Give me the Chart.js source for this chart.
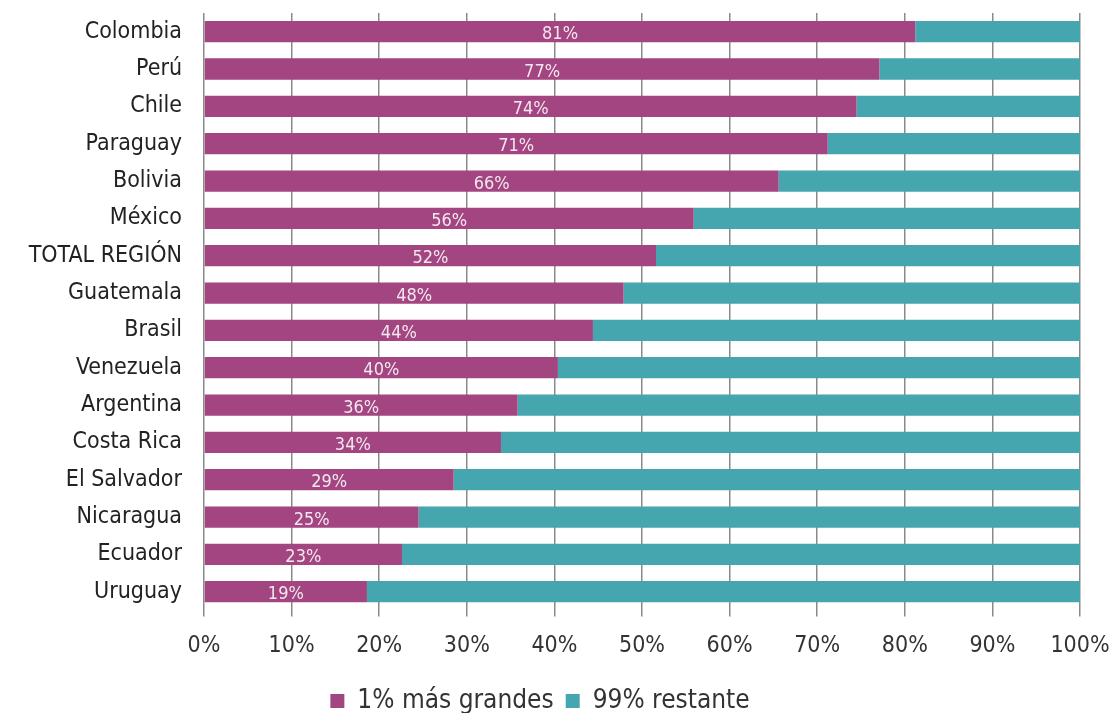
<!DOCTYPE html>
<html lang="es">
<head>
<meta charset="UTF-8">
<title>1% más grandes vs 99% restante</title>
<script src="https://cdn.jsdelivr.net/npm/chart.js"></script>
<style>
    html, body { margin: 0; padding: 0; background: #ffffff; }
    #caja { width: 1117px; height: 713px; }
</style>
</head>
<body>
<div id="caja"><canvas id="grafico"></canvas></div>
<script>
    var paises = ['Colombia', 'Perú', 'Chile', 'Paraguay', 'Bolivia', 'México', 'TOTAL REGIÓN',
        'Guatemala', 'Brasil', 'Venezuela', 'Argentina', 'Costa Rica', 'El Salvador',
        'Nicaragua', 'Ecuador', 'Uruguay'];
    var grandes = [81.2, 77.1, 74.5, 71.2, 65.6, 55.9, 51.6, 47.9, 44.4, 40.4, 35.8, 33.9, 28.5, 24.5, 22.6, 18.6];
    var restante = [18.8, 22.9, 25.5, 28.8, 34.4, 44.1, 48.4, 52.1, 55.6, 59.6, 64.2, 66.1, 71.5, 75.5, 77.4, 81.4];
    var etiquetas = ['81%', '77%', '74%', '71%', '66%', '56%', '52%', '48%', '44%', '40%', '36%', '34%', '29%', '25%', '23%', '19%'];

    var fuente = "'DejaVu Sans Condensed', 'Liberation Sans Narrow', sans-serif";

    // etiquetas dentro de la barra morada
    const etiquetasPlugin = {
        id: 'etiquetas',
        afterDatasetsDraw(chart) {
            const ctx = chart.ctx;
            const meta = chart.getDatasetMeta(0);
            ctx.save();
            ctx.fillStyle = '#f3e6ee';
            ctx.font = '18px ' + fuente;
            ctx.textAlign = 'center';
            ctx.textBaseline = 'middle';
            meta.data.forEach(function (barra, i) {
                const cx = (barra.x + barra.base) / 2;
                ctx.fillText(etiquetas[i], cx, barra.y + 3);
            });
            ctx.restore();
        }
    };

    new Chart(document.getElementById('grafico'), {
        type: 'bar',
        data: {
            labels: paises,
            datasets: [
                {
                    label: '1% más grandes',
                    data: grandes,
                    backgroundColor: '#a34581',
                    barPercentage: 0.57,
                    categoryPercentage: 1
                },
                {
                    label: '99% restante',
                    data: restante,
                    backgroundColor: '#46a6b0',
                    barPercentage: 0.57,
                    categoryPercentage: 1
                }
            ]
        },
        options: {
            indexAxis: 'y',
            responsive: true,
            maintainAspectRatio: false,
            animation: false,
            layout: { padding: { top: 13, right: 37, left: 0, bottom: -11 } },
            scales: {
                x: {
                    stacked: true,
                    min: 0,
                    max: 100,
                    afterFit: function (eje) { eje.paddingLeft = 0; eje.paddingRight = 0; },
                    ticks: {
                        stepSize: 10,
                        color: '#333333',
                        padding: 16,
                        font: { family: fuente, size: 23 },
                        callback: function (v) { return v + '%'; }
                    },
                    grid: { color: '#8a8a8a', lineWidth: 1.5, tickLength: 6 },
                    border: { display: false }
                },
                y: {
                    stacked: true,
                    afterFit: function (eje) {
                        eje.width = 204;
                        eje.paddingTop = 0;
                        eje.paddingBottom = 0;
                    },
                    ticks: {
                        color: '#222222',
                        padding: 14,
                        font: { family: fuente, size: 23 }
                    },
                    grid: { display: false },
                    border: { display: false }
                }
            },
            plugins: {
                legend: {
                    position: 'bottom',
                    labels: {
                        color: '#333333',
                        boxWidth: 14,
                        boxHeight: 14,
                        padding: 12,
                        font: { family: fuente, size: 26 }
                    }
                },
                tooltip: { enabled: false }
            }
        },
        plugins: [etiquetasPlugin]
    });
</script>
</body>
</html>
